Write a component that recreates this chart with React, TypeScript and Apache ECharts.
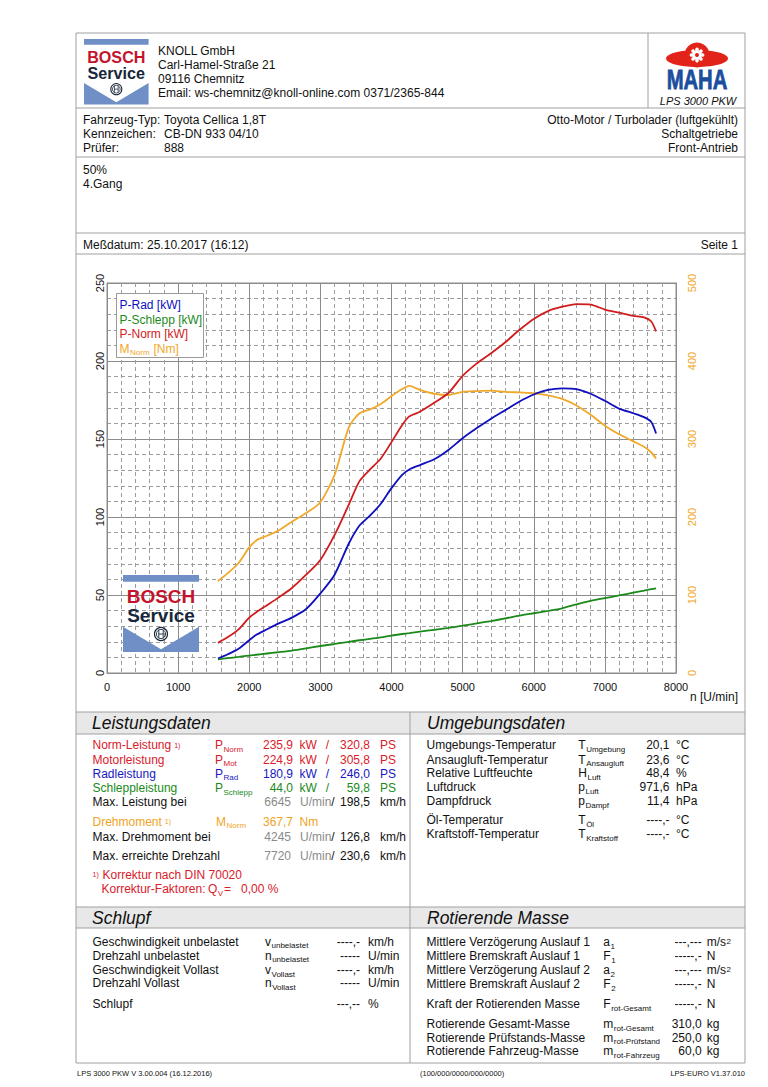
import React, { useEffect, useRef } from 'react';
import * as echarts from 'echarts';

// ---------- data ----------
const rpm = [1560, 1700, 1850, 2000, 2100, 2250, 2400, 2600, 2800, 3000, 3200, 3400, 3550, 3700, 3850, 4000, 4150, 4250, 4400, 4600, 4800, 5000, 5200, 5400, 5600, 5800, 6000, 6200, 6400, 6600, 6800, 7000, 7200, 7400, 7550, 7650, 7720];
const pRad = [9.3, 12, 15.5, 21, 24.5, 28, 31.5, 35.5, 41, 51, 63, 83, 94.5, 101, 108.5, 118.5, 127, 130.5, 133.3, 137, 143, 150.5, 157, 163, 168.5, 174, 178.5, 181.5, 182.5, 182, 179, 174.5, 169.5, 166.5, 164, 161, 153.5];
const pSchlepp = [8.8, 9.5, 10.3, 11.2, 11.7, 12.5, 13.3, 14.4, 15.8, 17.3, 18.6, 20, 21, 21.9, 22.8, 24, 25, 25.6, 26.5, 27.7, 28.9, 30.3, 31.8, 33.3, 35, 36.8, 38.3, 39.8, 41.5, 44, 46.2, 48, 49.7, 51.5, 52.8, 53.7, 54.3];
const pNorm = [19.3, 23, 28, 35.5, 39, 43.5, 48, 54.5, 63, 72.5, 88.5, 108, 123, 130.5, 137.5, 148, 159, 164.5, 167.5, 173.2, 179.5, 190.5, 198.5, 205, 212, 220, 227, 232, 234.8, 236.5, 236.2, 233, 231, 229, 228, 225.5, 219];
const mNorm = [118, 128, 141, 161, 170, 176, 182, 194, 205, 219, 254, 315, 333, 338, 345, 355, 364, 368, 363, 358, 356.4, 360.5, 361.5, 362, 360.5, 359.7, 358.8, 356, 351.5, 343, 331, 317, 306, 297, 290, 283, 275];

const seriesNames = ['P-Rad [kW]', 'P-Schlepp [kW]', 'P-Norm [kW]', 'M_Norm [Nm]'];

// tables
const leistung = [
  { label: 'Norm-Leistung', note: true, s: 'P', sub: 'Norm', kw: '235,9', ps: '320,8', c: 'red' },
  { label: 'Motorleistung', note: false, s: 'P', sub: 'Mot', kw: '224,9', ps: '305,8', c: 'red' },
  { label: 'Radleistung', note: false, s: 'P', sub: 'Rad', kw: '180,9', ps: '246,0', c: 'blue' },
  { label: 'Schleppleistung', note: false, s: 'P', sub: 'Schlepp', kw: '44,0', ps: '59,8', c: 'green' },
];
const umgebung = [
  ['Umgebungs-Temperatur', 'T', 'Umgebung', '20,1', '°C'],
  ['Ansaugluft-Temperatur', 'T', 'Ansaugluft', '23,6', '°C'],
  ['Relative Luftfeuchte', 'H', 'Luft', '48,4', '%'],
  ['Luftdruck', 'p', 'Luft', '971,6', 'hPa'],
  ['Dampfdruck', 'p', 'Dampf', '11,4', 'hPa'],
  ['Öl-Temperatur', 'T', 'Öl', '----,-', '°C'],
  ['Kraftstoff-Temperatur', 'T', 'Kraftstoff', '----,-', '°C'],
];
const schlupf = [
  ['Geschwindigkeit unbelastet', 'v', 'unbelastet', '----,-', 'km/h'],
  ['Drehzahl unbelastet', 'n', 'unbelastet', '-----', 'U/min'],
  ['Geschwindigkeit Vollast', 'v', 'Vollast', '----,-', 'km/h'],
  ['Drehzahl Vollast', 'n', 'Vollast', '-----', 'U/min'],
  ['Schlupf', '', '', '---,--', '%'],
];
const rotMasse = [
  ['Mittlere Verzögerung Auslauf 1', 'a', '1', '---,---', 'm/s2'],
  ['Mittlere Bremskraft Auslauf 1', 'F', '1', '-----,-', 'N'],
  ['Mittlere Verzögerung Auslauf 2', 'a', '2', '---,---', 'm/s2'],
  ['Mittlere Bremskraft Auslauf 2', 'F', '2', '-----,-', 'N'],
  ['Kraft der Rotierenden Masse', 'F', 'rot-Gesamt', '-----,-', 'N'],
  ['Rotierende Gesamt-Masse', 'm', 'rot-Gesamt', '310,0', 'kg'],
  ['Rotierende Prüfstands-Masse', 'm', 'rot-Prüfstand', '250,0', 'kg'],
  ['Rotierende Fahrzeug-Masse', 'm', 'rot-Fahrzeug', '60,0', 'kg'],
];

// ---------- styling ----------
const FONT = '"Liberation Sans", Arial, Helvetica, sans-serif';
const C: Record<string, string> = {
  red: '#d8202a',
  blue: '#1818c0',
  green: '#1a8a1a',
  orange: '#f0a323',
  gray: '#8a8a8a',
  black: '#111',
};
const LINE_RED = '#d01c1c';
const LINE_BLUE = '#0f0fbf';
const LINE_GREEN = '#1b8a1b';
const LINE_ORANGE = '#f0a828';
const FRAME = '#a0a0a0';
const BBLUE = '#6f8fc6';
const BRED = '#c4142c';
const BDARK = '#17263a';

let ctx2d: CanvasRenderingContext2D | null = null;
function measure(t: string, size: number) {
  if (!ctx2d) ctx2d = document.createElement('canvas').getContext('2d');
  if (!ctx2d) return t.length * size * 0.55;
  ctx2d.font = `${size}px ${FONT}`;
  return ctx2d.measureText(t).width;
}

function txt(x: number, y: number, text: string, o: any = {}) {
  return {
    type: 'text', x, y, silent: true, z: 10,
    scaleX: o.scaleX ?? 1,
    style: {
      text,
      fill: o.color || C.black,
      fontSize: o.size || 12,
      fontFamily: FONT,
      fontStyle: o.italic ? 'italic' : 'normal',
      fontWeight: o.bold ? 'bold' : 'normal',
      align: o.align || 'left',
      verticalAlign: 'middle',
    },
  };
}
function sym(x: number, y: number, main: string, sub: string, color: string) {
  if (!main) return [];
  const w = measure(main, 12);
  return [txt(x, y, main, { color }), txt(x + w + 0.5, y + 4, sub, { color, size: 8 })];
}
function hl(x1: number, x2: number, y: number) {
  return { type: 'line', silent: true, z: 9, shape: { x1, y1: y, x2, y2: y }, style: { stroke: FRAME, lineWidth: 1 } };
}
function vl(x: number, y1: number, y2: number) {
  return { type: 'line', silent: true, z: 9, shape: { x1: x, y1, x2: x, y2 }, style: { stroke: FRAME, lineWidth: 1 } };
}

function boschLogo(x0: number, y0: number, s: number) {
  return {
    type: 'group', x: x0, y: y0, scaleX: s, scaleY: s, z: 20, silent: true,
    children: [
      { type: 'rect', z: 20, shape: { x: 0, y: 0, width: 76, height: 6.7 }, style: { fill: BBLUE } },
      { type: 'text', z: 21, x: 38, y: 21, style: { text: 'BOSCH', fill: BRED, fontSize: 19, fontWeight: 'bold', fontFamily: FONT, align: 'center', verticalAlign: 'middle' } },
      { type: 'text', z: 21, x: 38, y: 40.5, style: { text: 'Service', fill: BDARK, fontSize: 19, fontWeight: 'bold', fontFamily: FONT, align: 'center', verticalAlign: 'middle' } },
      { type: 'polygon', z: 20, shape: { points: [[0, 51.7], [38, 74.3], [76, 51.7], [76, 77], [0, 77]] }, style: { fill: BBLUE } },
      { type: 'circle', z: 21, shape: { cx: 38, cy: 59, r: 6.5 }, style: { fill: 'none', stroke: BDARK, lineWidth: 1.2 } },
      { type: 'circle', z: 21, shape: { cx: 38, cy: 59, r: 4.6 }, style: { fill: 'none', stroke: BDARK, lineWidth: 0.9 } },
      { type: 'line', z: 21, shape: { x1: 35.8, y1: 54.8, x2: 35.8, y2: 63.2 }, style: { stroke: BDARK, lineWidth: 0.9 } },
      { type: 'line', z: 21, shape: { x1: 40.2, y1: 54.8, x2: 40.2, y2: 63.2 }, style: { stroke: BDARK, lineWidth: 0.9 } },
      { type: 'line', z: 21, shape: { x1: 35.8, y1: 59, x2: 40.2, y2: 59 }, style: { stroke: BDARK, lineWidth: 0.9 } },
    ],
  };
}

function mahaLogo() {
  const cx = 697, cy = 55;
  const teeth: any[] = [];
  for (let i = 0; i < 8; i++) {
    const a = (i * Math.PI) / 4;
    teeth.push({ type: 'circle', z: 22, silent: true, shape: { cx: cx + Math.cos(a) * 5.6, cy: cy + Math.sin(a) * 5.6, r: 1.8 }, style: { fill: '#fff' } });
  }
  return [
    { type: 'ellipse', z: 20, silent: true, shape: { cx, cy: 58.5, rx: 31, ry: 8.5 }, style: { fill: '#e2231a' } },
    { type: 'circle', z: 20, silent: true, shape: { cx, cy, r: 12.5 }, style: { fill: '#e2231a' } },
    { type: 'circle', z: 21, silent: true, shape: { cx, cy, r: 5 }, style: { fill: '#fff' } },
    ...teeth,
    { type: 'circle', z: 23, silent: true, shape: { cx, cy, r: 2 }, style: { fill: '#e2231a' } },
    { type: 'text', z: 21, silent: true, x: cx, y: 79.5, scaleX: 0.75, style: { text: 'MAHA', fill: '#1b4f9e', fontSize: 27, fontWeight: 'bold', fontFamily: FONT, align: 'center', verticalAlign: 'middle', stroke: '#1b4f9e', lineWidth: 0.8 } },
  ];
}

function buildGraphics() {
  const g: any[] = [];
  // frame lines
  g.push(hl(76, 745, 33), hl(76, 745, 108), hl(76, 745, 157), hl(76, 745, 233), hl(76, 745, 254));
  g.push(vl(76, 33, 1063), vl(745, 33, 1063), vl(648, 33, 108));
  // section bands
  g.push({ type: 'rect', silent: true, z: 8, shape: { x: 76, y: 712, width: 669, height: 22 }, style: { fill: '#e8e8e8' } });
  g.push({ type: 'rect', silent: true, z: 8, shape: { x: 76, y: 907, width: 669, height: 21 }, style: { fill: '#e8e8e8' } });
  g.push(hl(76, 745, 712), hl(76, 745, 734), hl(76, 745, 907), hl(76, 745, 928), hl(76, 745, 1063));
  g.push(vl(410, 712, 1063));

  // header
  g.push(boschLogo(84, 39, 0.85));
  ['KNOLL GmbH', 'Carl-Hamel-Straße 21', '09116 Chemnitz', 'Email: ws-chemnitz@knoll-online.com 0371/2365-844'].forEach((t, i) =>
    g.push(txt(158, 50.5 + i * 14, t))
  );
  g.push(...mahaLogo());
  g.push(txt(698, 101, 'LPS 3000 PKW', { italic: true, size: 11, align: 'center' }));

  // vehicle info
  const vy = [120, 134, 148];
  [['Fahrzeug-Typ:', 'Toyota Cellica 1,8T'], ['Kennzeichen:', 'CB-DN 933 04/10'], ['Prüfer:', '888']].forEach((r, i) => {
    g.push(txt(83, vy[i], r[0]), txt(164, vy[i], r[1]));
  });
  ['Otto-Motor / Turbolader (luftgekühlt)', 'Schaltgetriebe', 'Front-Antrieb'].forEach((t, i) => g.push(txt(738, vy[i], t, { align: 'right' })));
  g.push(txt(83, 170, '50%'), txt(83, 184, '4.Gang'));
  g.push(txt(83, 244.5, 'Meßdatum: 25.10.2017 (16:12)'), txt(738, 244.5, 'Seite 1', { align: 'right' }));

  // chart legend box & logo
  g.push({ type: 'rect', silent: true, z: 15, shape: { x: 116.5, y: 293.5, width: 87, height: 64 }, style: { fill: '#fff', stroke: '#9a9a9a', lineWidth: 1 } });
  const ly = [305, 319.5, 334, 348.5];
  g.push({ ...txt(119.5, ly[0], seriesNames[0], { color: LINE_BLUE }), z: 16 });
  g.push({ ...txt(119.5, ly[1], seriesNames[1], { color: LINE_GREEN }), z: 16 });
  g.push({ ...txt(119.5, ly[2], seriesNames[2], { color: LINE_RED }), z: 16 });
  const mw = measure('M', 12);
  const nw = measure('Norm', 8);
  g.push({ ...txt(119.5, ly[3], 'M', { color: LINE_ORANGE }), z: 16 });
  g.push({ ...txt(119.5 + mw + 0.5, ly[3] + 4, 'Norm', { color: LINE_ORANGE, size: 8 }), z: 16 });
  g.push({ ...txt(119.5 + mw + nw + 1, ly[3], ' [Nm]', { color: LINE_ORANGE }), z: 16 });
  g.push(boschLogo(123, 575, 1));
  g.push(txt(738, 697, 'n [U/min]', { align: 'right' }));

  // section titles
  g.push(txt(92, 723, 'Leistungsdaten', { italic: true, size: 17.5 }));
  g.push(txt(427, 723, 'Umgebungsdaten', { italic: true, size: 17.5 }));
  g.push(txt(92, 918, 'Schlupf', { italic: true, size: 17.5 }));
  g.push(txt(427, 918, 'Rotierende Masse', { italic: true, size: 17.5 }));

  // Leistungsdaten
  const ry = [745, 759.5, 773.5, 788];
  leistung.forEach((r, i) => {
    const col = C[r.c];
    const y = ry[i];
    g.push(txt(92.5, y, r.label, { color: col }));
    if (r.note) g.push(txt(92.5 + measure(r.label, 12) + 3, y, '1)', { color: col, size: 7 }));
    g.push(...sym(215, y, r.s, r.sub, col));
    g.push(txt(293, y, r.kw, { color: col, align: 'right' }));
    g.push(txt(299.5, y, 'kW', { color: col }));
    g.push(txt(327.5, y, '/', { color: col, align: 'center' }));
    g.push(txt(370, y, r.ps, { color: col, align: 'right' }));
    g.push(txt(380, y, 'PS', { color: col }));
  });
  const speedRow = (y: number, label: string, n: string, v: string) => {
    g.push(txt(92.5, y, label));
    g.push(txt(291, y, n, { color: C.gray, align: 'right' }));
    g.push(txt(300, y, 'U/min', { color: C.gray }));
    g.push(txt(300 + measure('U/min', 12), y, '/'));
    g.push(txt(370, y, v, { align: 'right' }));
    g.push(txt(380, y, 'km/h'));
  };
  speedRow(802, 'Max. Leistung bei', '6645', '198,5');
  g.push(txt(92.5, 821.5, 'Drehmoment', { color: C.orange }));
  g.push(txt(92.5 + measure('Drehmoment', 12) + 3, 821.5, '1)', { color: C.orange, size: 7 }));
  g.push(...sym(216, 821.5, 'M', 'Norm', C.orange));
  g.push(txt(293, 821.5, '367,7', { color: C.orange, align: 'right' }));
  g.push(txt(299.5, 821.5, 'Nm', { color: C.orange }));
  speedRow(836.5, 'Max. Drehmoment bei', '4245', '126,8');
  speedRow(856, 'Max. erreichte Drehzahl', '7720', '230,6');
  g.push(txt(92.5, 874.5, '1)', { color: C.red, size: 7 }));
  g.push(txt(102.5, 874.5, 'Korrektur nach DIN 70020', { color: C.red }));
  g.push(txt(101.5, 889, 'Korrektur-Faktoren:', { color: C.red }));
  g.push(...sym(208, 889, 'Q', 'V', C.red));
  g.push(txt(224, 889, '=', { color: C.red }));
  g.push(txt(241, 889, '0,00 %', { color: C.red }));

  // Umgebungsdaten
  const uy = [745.3, 759.5, 773.3, 787.3, 801.3, 820, 834];
  umgebung.forEach((r, i) => {
    const y = uy[i];
    g.push(txt(426.5, y, r[0]));
    g.push(...sym(578.3, y, r[1], r[2], C.black));
    g.push(txt(669.5, y, r[3], { align: 'right' }));
    g.push(txt(676, y, r[4]));
  });

  // Schlupf
  const sy = [941.7, 955.7, 970, 983.3, 1004];
  schlupf.forEach((r, i) => {
    const y = sy[i];
    g.push(txt(92.5, y, r[0]));
    g.push(...sym(265, y, r[1], r[2], C.black));
    g.push(txt(360, y, r[3], { align: 'right' }));
    g.push(txt(368, y, r[4]));
  });

  // Rotierende Masse
  const my = [942.3, 956, 970.3, 984, 1004.3, 1024, 1037.5, 1051.3];
  rotMasse.forEach((r, i) => {
    const y = my[i];
    g.push(txt(426.5, y, r[0]));
    g.push(...sym(603.3, y, r[1], r[2], C.black));
    g.push(txt(701.7, y, r[3], { align: 'right' }));
    if (r[4] === 'm/s2') {
      g.push(txt(706.7, y, 'm/s'));
      g.push(txt(706.7 + measure('m/s', 12) + 0.5, y - 1, '2', { size: 8 }));
    } else {
      g.push(txt(706.7, y, r[4]));
    }
  });

  // footer
  g.push(txt(77, 1073.5, 'LPS 3000 PKW V 3.00.004 (16.12.2016)', { size: 7.5 }));
  g.push(txt(420, 1073.5, '(100/000/0000/000/0000)', { size: 7.5 }));
  g.push(txt(745, 1073.5, 'LPS-EURO V1.37.010', { size: 7.5, align: 'right' }));
  return g;
}

function buildOption(): any {
  const mk = (vals: number[]) => rpm.map((r, i) => [r, vals[i]]);
  const lineSeries = (name: string, vals: number[], color: string, yAxisIndex: number) => ({
    name, type: 'line', data: mk(vals), yAxisIndex, showSymbol: false, symbol: 'none', smooth: 0.25,
    lineStyle: { color, width: 1.8 }, itemStyle: { color }, z: 5,
  });
  const plain = (v: number) => String(v);
  return {
    animation: false,
    backgroundColor: '#fff',
    textStyle: { fontFamily: FONT },
    grid: { left: 107, top: 283, width: 569, height: 390, show: true, borderColor: '#8c8c8c', borderWidth: 1, backgroundColor: '#fff' },
    xAxis: {
      type: 'value', min: 0, max: 8000, interval: 1000,
      axisLine: { show: true, lineStyle: { color: '#8c8c8c' } },
      axisTick: { show: false },
      axisLabel: { color: '#111', fontSize: 11, margin: 8, fontFamily: FONT, formatter: plain },
      splitLine: { show: true, lineStyle: { color: '#8c8c8c', width: 1 } },
      minorTick: { show: false, splitNumber: 5 },
      minorSplitLine: { show: true, lineStyle: { color: '#9c9c9c', width: 1, type: [4, 3] } },
    },
    yAxis: [
      {
        type: 'value', min: 0, max: 250, interval: 50, position: 'left',
        axisLine: { show: true, lineStyle: { color: '#8c8c8c' } },
        axisTick: { show: false },
        axisLabel: { color: '#111', fontSize: 11, margin: 2, rotate: 90, fontFamily: FONT, formatter: plain },
        splitLine: { show: true, lineStyle: { color: '#8c8c8c', width: 1 } },
        minorTick: { show: false, splitNumber: 5 },
        minorSplitLine: { show: true, lineStyle: { color: '#9c9c9c', width: 1, type: [4, 3] } },
      },
      {
        type: 'value', min: 0, max: 500, interval: 100, position: 'right',
        axisLine: { show: true, lineStyle: { color: '#8c8c8c' } },
        axisTick: { show: false },
        axisLabel: { color: LINE_ORANGE, fontSize: 11, margin: 10, rotate: 90, fontFamily: FONT, formatter: plain },
        splitLine: { show: false },
      },
    ],
    series: [
      lineSeries(seriesNames[1], pSchlepp, LINE_GREEN, 0),
      lineSeries(seriesNames[3], mNorm, LINE_ORANGE, 1),
      lineSeries(seriesNames[0], pRad, LINE_BLUE, 0),
      lineSeries(seriesNames[2], pNorm, LINE_RED, 0),
    ],
    graphic: { elements: buildGraphics() },
  };
}

export default function App() {
  const ref = useRef<HTMLDivElement>(null);
  useEffect(() => {
    if (!ref.current) return;
    const chart = echarts.init(ref.current, null, { renderer: 'svg', width: 768, height: 1087 });
    chart.setOption(buildOption());
    return () => chart.dispose();
  }, []);
  return (
    <div
      ref={ref}
      style={{ position: 'absolute', left: 0, top: 0, width: 768, height: 1087, background: '#fff' }}
    />
  );
}
